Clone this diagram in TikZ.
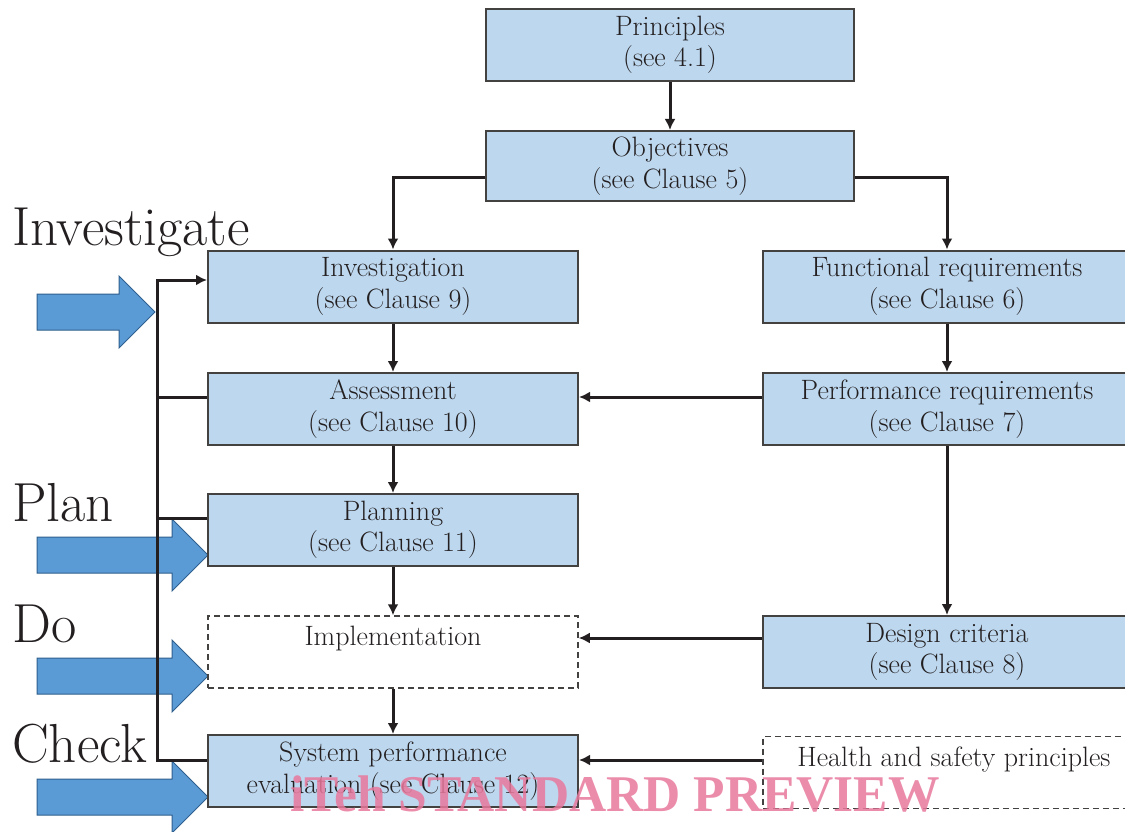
\documentclass[tikz,border=0pt]{standalone}
\usepackage{xcolor}
\usepackage{fontspec}
\newfontfamily\markfont{Liberation Serif}
\usepackage{tikz}
\usetikzlibrary{arrows.meta, positioning, calc}

\definecolor{boxblue}{HTML}{BDD7EE}
\definecolor{arrowblue}{HTML}{5B9BD5}
\definecolor{arrowedge}{HTML}{2E5F8E}
\definecolor{ink}{HTML}{231F20}
\definecolor{markpink}{HTML}{E8789C}

\begin{document}
\begin{tikzpicture}[x=1pt, y=-1pt,
    clause/.style={draw=ink!85, line width=2pt, fill=boxblue, text=ink, align=center,
        minimum width=370pt, minimum height=72pt, inner sep=0pt,
        font=\fontsize{28}{31.5}\selectfont},
    openbox/.style={clause, fill=white, dashed, dash pattern=on 6pt off 4pt, line width=1.5pt},
    flow/.style={ink, line width=3pt, -{Latex[length=11pt,width=11pt]}},
    link/.style={ink, line width=3pt},
    phase/.style={text=ink, anchor=base west, inner sep=0pt, font=\fontsize{55}{55}\selectfont}]
\useasboundingbox (0,0) rectangle (1125,832);

% Phase arrows (drawn first, the feedback line passes over them)
\foreach \tx/\ty in {155/312, 208/555, 208/676, 208/797} {
    \filldraw[fill=arrowblue, draw=arrowedge, line width=1pt]
        (37,{\ty-18}) -- ({\tx-36},{\ty-18}) -- ({\tx-36},{\ty-36}) -- (\tx,\ty)
        -- ({\tx-36},{\ty+36}) -- ({\tx-36},{\ty+18}) -- (37,{\ty+18}) -- cycle;
}

% Phase labels
\node[phase] (lblinv) at (12,245) {Investigate};
\node[phase] (lblplan) at (12,521) {Plan};
\node[phase] (lbldo) at (12,642) {Do};
\node[phase] (lblcheck) at (12,762) {Check};

% Boxes
\node[clause, minimum width=368pt] (prin) at (670,45) {Principles\\(see 4.1)};
\node[clause, minimum width=368pt, minimum height=70pt] (obj) at (670,166) {Objectives\\(see Clause 5)};
\node[clause] (inv) at (393,286.5) {Investigation\\(see Clause 9)};
\node[clause, minimum width=368pt] (func) at (947,286.5) {Functional requirements\\(see Clause 6)};
\node[clause] (ass) at (393,409) {Assessment\\(see Clause 10)};
\node[clause, minimum width=368pt] (perf) at (947,409) {Performance requirements\\(see Clause 7)};
\node[clause] (plan) at (393,530) {Planning\\(see Clause 11)};
\node[openbox] (impl) at (393,652) {Implementation\\\mbox{}};
\node[clause, minimum width=368pt] (design) at (947,652) {Design criteria\\(see Clause 8)};
\node[clause] (sys) at (393,771) {System performance\\evaluation (see Clause 12)};
\node[openbox, minimum width=368pt] (hs) at (947,772.5) {\hspace{14pt}Health and safety principles\\\mbox{}};

% Main flow
\draw[flow] (prin) -- (obj);
\draw[flow] ([yshift=-12pt]obj.west) -| (inv.north);
\draw[flow] ([yshift=-12pt]obj.east) -| (func.north);
\draw[flow] (inv) -- (ass);
\draw[flow] (ass) -- (plan);
\draw[flow] (plan) -- (impl);
\draw[flow] (impl) -- (sys);
\draw[flow] (func) -- (perf);
\draw[flow] (perf) -- (design);
\draw[flow] ([yshift=12pt]perf.west) -- ([yshift=12pt]ass.east);
\draw[flow] ([yshift=14pt]design.west) -- ([yshift=14pt]impl.east);
\draw[flow] ([yshift=12.5pt]hs.west) -- ([yshift=11pt]sys.east);

% Feedback loop
\coordinate (fbtop) at (157,280);
\draw[flow] ([yshift=11pt]sys.west) -| (fbtop) -- ([yshift=6.5pt]inv.west);
\draw[link] ([yshift=12pt]ass.west) -- +(-51,0);
\draw[link] ([yshift=12pt]plan.west) -- +(-51,0);

% Watermark
\node[text=markpink, opacity=0.85, anchor=base west, inner sep=0pt,
    font=\markfont\bfseries\fontsize{51.5}{51.5}\selectfont] (mark) at (290,811) {iTeh STANDARD PREVIEW};
\end{tikzpicture}
\end{document}
